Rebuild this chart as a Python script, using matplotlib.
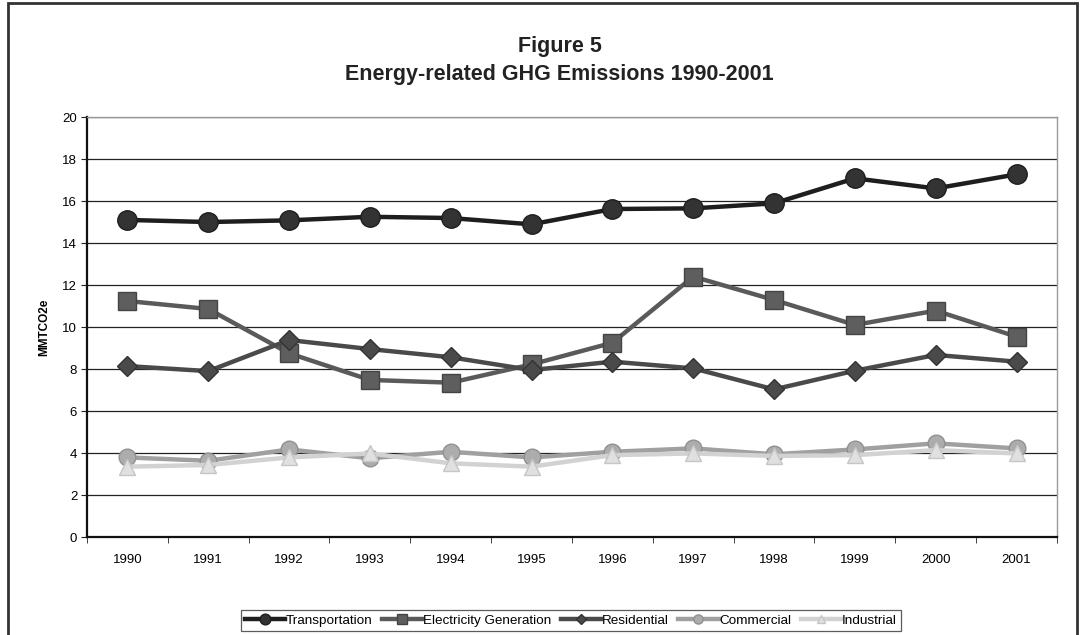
import numpy as np
import matplotlib.pyplot as plt
from matplotlib.patches import Rectangle

plt.rcParams['font.family'] = ['Liberation Sans', 'DejaVu Sans']

years = ['1990', '1991', '1992', '1993', '1994', '1995',
         '1996', '1997', '1998', '1999', '2000', '2001']

transportation = [15.1, 15.0, 15.08, 15.25, 15.19, 14.89,
                  15.62, 15.65, 15.89, 17.08, 16.6, 17.27]
electricity = [11.24, 10.86, 8.75, 7.48, 7.35, 8.22,
               9.25, 12.4, 11.29, 10.1, 10.78, 9.54]
residential = [8.14, 7.9, 9.38, 8.95, 8.56, 7.95,
               8.35, 8.03, 7.03, 7.92, 8.67, 8.35]
commercial = [3.79, 3.63, 4.17, 3.75, 4.06, 3.79,
              4.06, 4.22, 3.94, 4.17, 4.46, 4.22]
industrial = [3.35, 3.43, 3.79, 3.98, 3.51, 3.35,
              3.9, 3.98, 3.86, 3.9, 4.14, 3.98]

fig = plt.figure(figsize=(10.87, 6.35), dpi=100)
ax = fig.add_axes([0.080, 0.1543, 0.8924, 0.6614])

# outer chart border
fig.patches.append(Rectangle((8 / 1087, -0.01), 1069 / 1087, 1.0 - 3 / 635 + 0.01,
                             transform=fig.transFigure, fill=False,
                             edgecolor='#333333', linewidth=2.0))

x = np.arange(len(years))

# Series
ax.plot(x, transportation, '-o', color='#1e1e1e', lw=3.2, ms=14,
        mfc='#333333', mec='#1e1e1e', label='Transportation', zorder=3)
ax.plot(x, electricity, '-s', color='#5a5a5a', lw=3.2, ms=13,
        mfc='#5e5e5e', mec='#444444', label='Electricity Generation', zorder=4)
ax.plot(x, residential, '-D', color='#4a4a4a', lw=3.2, ms=10,
        mfc='#4a4a4a', mec='#333333', label='Residential', zorder=5)
ax.plot(x, commercial, '-o', color='#a0a0a0', lw=3.2, ms=12,
        mfc='#acacac', mec='#919191', label='Commercial', zorder=6)
ax.plot(x, industrial, '-^', color='#d2d2d2', lw=3.2, ms=11,
        mfc='#e0e0e0', mec='#c6c6c6', label='Industrial', zorder=7)

ax.set_xlim(-0.5, len(years) - 0.5)
ax.set_ylim(0, 20)
ax.set_yticks(np.arange(0, 21, 2))
ax.set_xticks(x)
ax.set_xticklabels(years)
ax.set_xticks(np.arange(-0.5, len(years), 1), minor=True)
ax.tick_params(axis='x', which='major', length=0, pad=12, labelsize=9.5)
ax.tick_params(axis='x', which='minor', length=4, direction='out', color='#222222')
ax.tick_params(axis='y', length=4, direction='out', labelsize=9.5, pad=3, color='#222222')

ax.yaxis.grid(True, color='#222222', linewidth=0.9)
ax.set_axisbelow(True)

for side in ['top', 'right']:
    ax.spines[side].set_color('#9a9a9a')
    ax.spines[side].set_linewidth(1.0)
for side in ['left', 'bottom']:
    ax.spines[side].set_color('#111111')
    ax.spines[side].set_linewidth(1.6)

ax.set_ylabel('MMTCO2e', fontsize=8.5, fontweight='bold', labelpad=9)

fig.text(0.515, 0.926, 'Figure 5', ha='center', va='center',
         fontsize=15.5, fontweight='bold', color='#222222')
fig.text(0.515, 0.882, 'Energy-related GHG Emissions 1990-2001', ha='center',
         va='center', fontsize=15.5, fontweight='bold', color='#222222')

leg = fig.legend(loc='center', bbox_to_anchor=(0.525, 0.023), ncol=5,
                 fontsize=9.7, frameon=True, fancybox=False, edgecolor='#333333',
                 handlelength=3.0, handletextpad=0.05, columnspacing=0.7,
                 borderpad=0.3, markerscale=0.55)
leg.get_frame().set_linewidth(0.9)

fig.savefig('out.png', dpi=100)
